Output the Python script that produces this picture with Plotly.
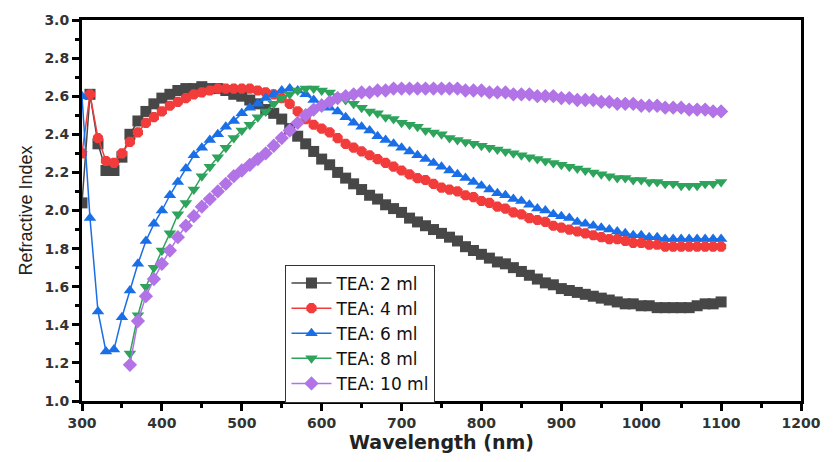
import plotly.graph_objects as go

wl_full = list(range(300, 1101, 10))
wl_late = list(range(360, 1101, 10))

tea2 = [2.04, 2.61, 2.35, 2.21, 2.21, 2.28, 2.40, 2.47, 2.52, 2.56, 2.59,
        2.61, 2.63, 2.64, 2.64, 2.65, 2.64, 2.64, 2.63, 2.61, 2.60,
        2.58, 2.56, 2.53, 2.51, 2.48, 2.43, 2.39, 2.35, 2.31, 2.27,
        2.24, 2.20, 2.17, 2.14, 2.11, 2.08, 2.06, 2.03, 2.01, 1.99,
        1.96, 1.94, 1.92, 1.90, 1.88, 1.86, 1.84, 1.81, 1.79, 1.77,
        1.75, 1.73, 1.72, 1.70, 1.68, 1.66, 1.64, 1.62, 1.61, 1.59,
        1.58, 1.57, 1.56, 1.55, 1.54, 1.53, 1.52, 1.51, 1.51, 1.50,
        1.50, 1.49, 1.49, 1.49, 1.49, 1.49, 1.50, 1.51, 1.51, 1.52]

tea4 = [2.30, 2.61, 2.38, 2.26, 2.25, 2.30, 2.36, 2.41, 2.46, 2.49, 2.52,
        2.55, 2.57, 2.59, 2.61, 2.62, 2.63, 2.64, 2.64, 2.64, 2.64,
        2.64, 2.63, 2.62, 2.61, 2.59, 2.56, 2.52, 2.48, 2.45, 2.43,
        2.41, 2.38, 2.35, 2.33, 2.31, 2.29, 2.27, 2.25, 2.23, 2.21,
        2.19, 2.17, 2.16, 2.14, 2.12, 2.11, 2.10, 2.08, 2.07, 2.05,
        2.04, 2.02, 2.01, 1.99, 1.98, 1.96, 1.95, 1.94, 1.92, 1.91,
        1.90, 1.89, 1.88, 1.87, 1.86, 1.85, 1.85, 1.84, 1.83, 1.83,
        1.82, 1.82, 1.81, 1.81, 1.81, 1.81, 1.81, 1.81, 1.81, 1.81]

tea6 = [2.60, 1.96, 1.47, 1.26, 1.27, 1.44, 1.58, 1.72, 1.84, 1.93, 2.00,
        2.08, 2.15, 2.22, 2.29, 2.33, 2.37, 2.40, 2.44, 2.47, 2.51,
        2.54, 2.56, 2.59, 2.61, 2.63, 2.64, 2.63, 2.61, 2.58, 2.56,
        2.54, 2.52, 2.49, 2.46, 2.44, 2.42, 2.39, 2.37, 2.35, 2.33,
        2.31, 2.29, 2.27, 2.25, 2.23, 2.21, 2.19, 2.17, 2.15, 2.13,
        2.11, 2.09, 2.08, 2.06, 2.05, 2.03, 2.01, 2.00, 1.98, 1.97,
        1.96, 1.94, 1.93, 1.92, 1.91, 1.90, 1.89, 1.88, 1.87, 1.87,
        1.86, 1.86, 1.85, 1.85, 1.85, 1.85, 1.85, 1.85, 1.85, 1.85]

tea8 = [1.25, 1.45, 1.60, 1.70, 1.79,
        1.88, 1.98, 2.04, 2.11, 2.18, 2.23, 2.28, 2.33, 2.38, 2.42,
        2.45, 2.49, 2.52, 2.56, 2.59, 2.61, 2.63, 2.64, 2.64, 2.63,
        2.62, 2.60, 2.58, 2.56, 2.54, 2.52, 2.51, 2.49, 2.48, 2.46,
        2.45, 2.44, 2.42, 2.41, 2.40, 2.38, 2.37, 2.36, 2.35, 2.34,
        2.33, 2.32, 2.31, 2.30, 2.29, 2.28, 2.27, 2.26, 2.25, 2.24,
        2.23, 2.22, 2.21, 2.20, 2.19, 2.18, 2.17, 2.17, 2.16, 2.16,
        2.15, 2.15, 2.14, 2.14, 2.13, 2.13, 2.13, 2.14, 2.14, 2.15]

tea10 = [1.19, 1.42, 1.55, 1.64, 1.72,
         1.79, 1.86, 1.92, 1.97, 2.02, 2.06, 2.10, 2.14, 2.18, 2.21,
         2.24, 2.27, 2.30, 2.34, 2.38, 2.42, 2.46, 2.50, 2.53, 2.55,
         2.57, 2.59, 2.60, 2.61, 2.62, 2.62, 2.63, 2.63, 2.64, 2.64,
         2.64, 2.64, 2.64, 2.64, 2.64, 2.64, 2.64, 2.63, 2.63, 2.63,
         2.62, 2.62, 2.62, 2.61, 2.61, 2.61, 2.60, 2.60, 2.60, 2.59,
         2.59, 2.58, 2.58, 2.58, 2.57, 2.57, 2.56, 2.56, 2.56, 2.55,
         2.55, 2.55, 2.54, 2.54, 2.54, 2.53, 2.53, 2.53, 2.52, 2.52]

series = [
    ("TEA: 2 ml", wl_full, tea2, "#474747", "square"),
    ("TEA: 4 ml", wl_full, tea4, "#f23b3b", "octagon"),
    ("TEA: 6 ml", wl_full, tea6, "#1a6fe6", "triangle-up"),
    ("TEA: 8 ml", wl_late, tea8, "#2ea35c", "triangle-down"),
    ("TEA: 10 ml", wl_late, tea10, "#b173e6", "diamond"),
]

fig = go.Figure()
for name, x, y, color, sym in series:
    fig.add_trace(go.Scatter(
        x=x, y=y, name=name, mode="lines+markers",
        line=dict(color=color, width=1.5),
        marker=dict(symbol=sym, size=11, color=color, line=dict(width=0)),
    ))

fig.update_layout(
    width=833, height=462,
    margin=dict(l=82, r=32, t=17, b=58),
    paper_bgcolor="white", plot_bgcolor="white",
    font=dict(family="DejaVu Sans", color="#222"),
    legend=dict(
        x=0.283, y=-0.004, xanchor="left", yanchor="bottom",
        bgcolor="white", bordercolor="#333", borderwidth=1,
        font=dict(size=17, family="DejaVu Sans", color="#111"),
        tracegroupgap=0, itemwidth=40,
    ),
    showlegend=True,
)

fig.update_xaxes(
    range=[300, 1200], dtick=100, tick0=300,
    showline=True, linecolor="black", linewidth=3, mirror=True,
    ticks="outside", ticklen=7, tickwidth=2.5, tickcolor="black",
    minor=dict(dtick=50, ticks="outside", ticklen=4, tickwidth=2.5, tickcolor="black"),
    showgrid=False, zeroline=False,
    tickfont=dict(size=14, family="DejaVu Sans", color="#333", weight="bold"),
    title=dict(text="<b>Wavelength (nm)</b>", font=dict(size=19, color="#222"), standoff=6),
)
fig.update_yaxes(
    range=[1.0, 3.0], dtick=0.2, tick0=1.0, tickformat=".1f",
    showline=True, linecolor="black", linewidth=3, mirror=True,
    ticks="outside", ticklen=7, tickwidth=2.5, tickcolor="black",
    minor=dict(dtick=0.1, ticks="outside", ticklen=4, tickwidth=2.5, tickcolor="black"),
    showgrid=False, zeroline=False,
    tickfont=dict(size=14, family="DejaVu Sans", color="#333", weight="bold"),
    title=dict(text="Refractive Index", font=dict(size=18, family="Liberation Sans", color="#222"), standoff=8),
)

fig.write_html("out.html")
